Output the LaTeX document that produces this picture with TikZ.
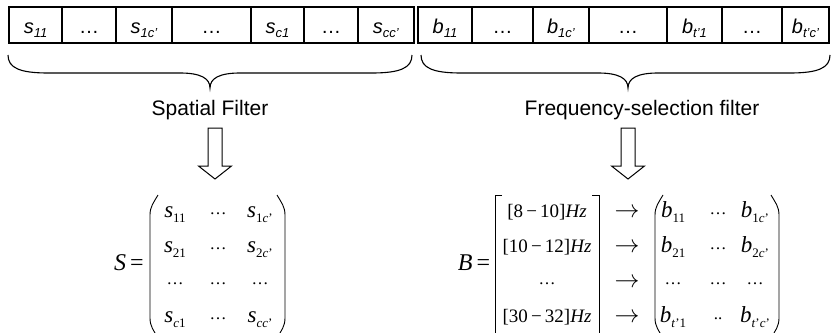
\documentclass[tikz,border=0pt]{standalone}
\usepackage{fontspec}
\setmainfont{Liberation Serif}
\setsansfont{Liberation Sans}
\usetikzlibrary{calc}
\newcommand\csub[2]{\textit{#1}\raisebox{-4pt}{\fontsize{13}{13}\selectfont\textit{#2}}}
\newcommand\msub[2]{\textit{#1}\raisebox{-5pt}{\fontsize{13}{13}\selectfont #2}}
\newcommand\mdots{\raisebox{3pt}{\fontsize{17}{17}\selectfont …}}
\tikzset{
  cell/.style={draw, line width=1.1pt, minimum height=36pt, text height=20pt, text depth=4pt,
    inner sep=0pt, font=\sffamily\fontsize{20}{24}\selectfont},
  flabel/.style={font=\sffamily\fontsize{21}{25}\selectfont, inner sep=0pt},
  brace/.style={line width=1.1pt},
  blockarrow/.style={draw, line width=1pt, line join=miter},
  ent/.style={anchor=base, inner sep=0pt, font=\fontsize{23}{25}\selectfont},
  lent/.style={anchor=base, inner sep=0pt, font=\fontsize{19}{22}\selectfont},
  eqn/.style={anchor=base, inner sep=0pt, font=\fontsize{24}{26}\selectfont},
  delim/.style={line width=0.9pt},
}
\begin{document}
\begin{tikzpicture}[x=1pt,y=-1pt]
\useasboundingbox (0,0) rectangle (832,332);
% top cells, spatial
\node[cell, minimum width=53pt] (c1) at (35.5,25) {\csub{s}{11}};
\node[cell, minimum width=54pt] (c2) at (89,25) {…};
\node[cell, minimum width=56pt] (c3) at (144,25) {\csub{s}{1c'}};
\node[cell, minimum width=79pt] (c4) at (211.5,25) {…};
\node[cell, minimum width=53pt] (c5) at (277.5,25) {\csub{s}{c1}};
\node[cell, minimum width=54pt] (c6) at (331,25) {…};
\node[cell, minimum width=56pt] (c7) at (386,25) {\csub{s}{cc'}};
% top cells, frequency
\node[cell, minimum width=54pt] (d1) at (445,25) {\csub{b}{11}};
\node[cell, minimum width=61pt] (d2) at (502.5,25) {…};
\node[cell, minimum width=56pt] (d3) at (561,25) {\csub{b}{1c'}};
\node[cell, minimum width=78pt] (d4) at (628,25) {…};
\node[cell, minimum width=55pt] (d5) at (694.5,25) {\csub{b}{t'1}};
\node[cell, minimum width=60pt] (d6) at (752,25) {…};
\node[cell, minimum width=47pt] (d7) at (805.5,25) {\csub{b}{t'c'}};
% braces
\coordinate (bsl) at (8,55); \coordinate (bst) at (210,88); \coordinate (bsr) at (412,55);
\coordinate (bfl) at (421,55); \coordinate (bft) at (628,88); \coordinate (bfr) at (830,55);
\draw[brace] (bsl) .. controls ++(0,13) and ++(-28,0) .. ++(40,18) -- ($(bst)+(-30,-15)$)
  .. controls ++(20,0) and ++(0,-10) .. (bst) .. controls ++(0,-10) and ++(-20,0) .. ($(bst)+(30,-15)$)
  -- ($(bsr)+(-40,18)$) .. controls ++(28,0) and ++(0,13) .. (bsr);
\draw[brace] (bfl) .. controls ++(0,13) and ++(-28,0) .. ++(40,18) -- ($(bft)+(-30,-15)$)
  .. controls ++(20,0) and ++(0,-10) .. (bft) .. controls ++(0,-10) and ++(-20,0) .. ($(bft)+(30,-15)$)
  -- ($(bfr)+(-40,18)$) .. controls ++(28,0) and ++(0,13) .. (bfr);
% labels
\node[flabel] (ls) at (210,110) {Spatial Filter};
\node[flabel] (lf) at (642,110) {Frequency-selection filter};
% hollow arrows
\coordinate (as) at (215,128);
\coordinate (af) at (628,128);
\draw[blockarrow] (as) ++(-7,0) -- ++(0,38) -- ++(-9.5,0) -- ++(16.5,13) -- ++(16.5,-13) -- ++(-9.5,0) -- ++(0,-38) -- cycle;
\draw[blockarrow] (af) ++(-7,0) -- ++(0,38) -- ++(-9.5,0) -- ++(16.5,13) -- ++(16.5,-13) -- ++(-9.5,0) -- ++(0,-38) -- cycle;
% S matrix
\node[eqn] (seq) at (129,270) {\textit{S}\,=};
\draw[delim] (158,195) to[out=240,in=90] (150,215) -- (150,318) to[out=-90,in=120] (158,338);
\draw[delim] (277,195) to[out=-60,in=90] (285,215) -- (285,318) to[out=-90,in=60] (277,338);
\node[ent] (s11) at (175,217) {\msub{s}{11}};
\node[ent] (s12) at (218,217) {\mdots};
\node[ent] (s13) at (260,217) {\msub{s}{1\textit{c}'}};
\node[ent] (s21) at (175,252) {\msub{s}{21}};
\node[ent] (s22) at (218,252) {\mdots};
\node[ent] (s23) at (260,252) {\msub{s}{2\textit{c}'}};
\node[ent] (s31) at (175,287) {\mdots};
\node[ent] (s32) at (218,287) {\mdots};
\node[ent] (s33) at (260,287) {\mdots};
\node[ent] (s41) at (175,322) {\msub{s}{\textit{c}1}};
\node[ent] (s42) at (218,322) {\mdots};
\node[ent] (s43) at (260,322) {\msub{s}{\textit{cc}'}};
% B matrix
\node[eqn] (beq) at (474,270) {\textit{B}\,=};
\draw[delim] (502,195) -- (495,195) -- (495,338);
\draw[delim] (592,195) -- (599,195) -- (599,338);
\node[lent] (f1) at (547,217) {[8\,−\,10]\textit{Hz}};
\node[lent] (f2) at (547,252) {[10\,−\,12]\textit{Hz}};
\node[lent] (f3) at (547,287) {\mdots};
\node[lent] (f4) at (547,322) {[30\,−\,32]\textit{Hz}};
\node[ent] (r1) at (627,217) {$\rightarrow$};
\node[ent] (r2) at (627,252) {$\rightarrow$};
\node[ent] (r3) at (627,287) {$\rightarrow$};
\node[ent] (r4) at (627,322) {$\rightarrow$};
\draw[delim] (663,195) to[out=240,in=90] (655,215) -- (655,318) to[out=-90,in=120] (663,338);
\draw[delim] (771,195) to[out=-60,in=90] (779,215) -- (779,318) to[out=-90,in=60] (771,338);
\node[ent] (b11) at (673,217) {\msub{b}{11}};
\node[ent] (b12) at (718,217) {\mdots};
\node[ent] (b13) at (755,217) {\msub{b}{1\textit{c}'}};
\node[ent] (b21) at (673,252) {\msub{b}{21}};
\node[ent] (b22) at (718,252) {\mdots};
\node[ent] (b23) at (755,252) {\msub{b}{2\textit{c}'}};
\node[ent] (b31) at (673,287) {\mdots};
\node[ent] (b32) at (718,287) {\mdots};
\node[ent] (b33) at (755,287) {\mdots};
\node[ent] (b41) at (673,322) {\msub{b}{\textit{t}'1}};
\node[ent] (b42) at (718,322) {\raisebox{3pt}{\fontsize{17}{17}\selectfont ..}};
\node[ent] (b43) at (755,322) {\msub{b}{\textit{t}'\textit{c}'}};
\end{tikzpicture}
\end{document}
